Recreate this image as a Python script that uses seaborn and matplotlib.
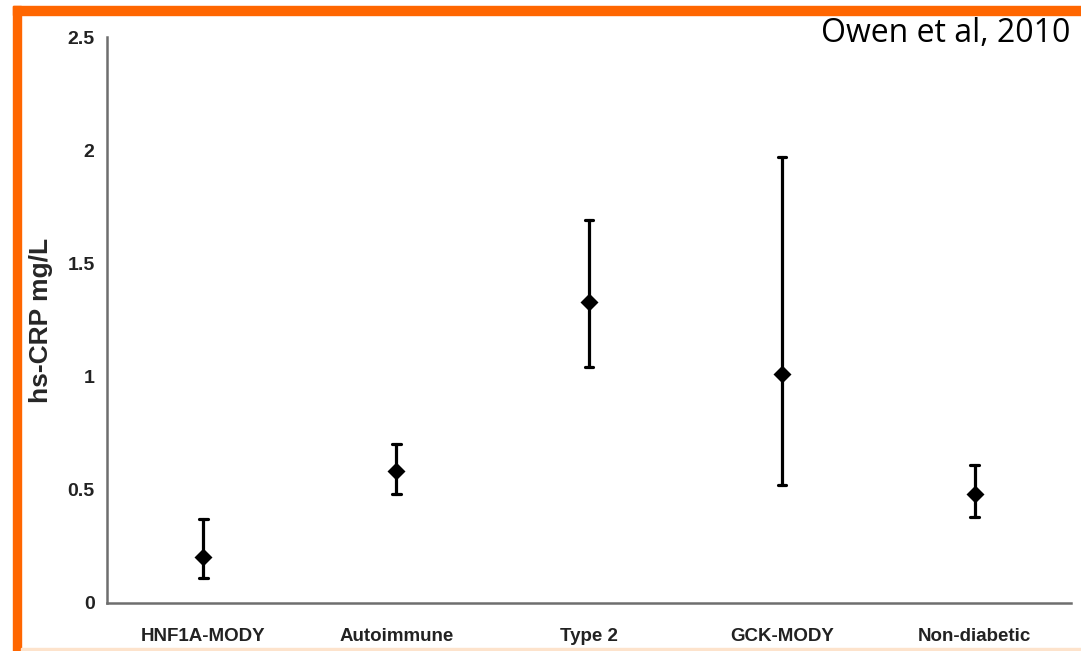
import numpy as np
import pandas as pd
import matplotlib
matplotlib.use("Agg")
import matplotlib.pyplot as plt
from matplotlib.patches import Rectangle
import seaborn as sns

# hs-CRP by diabetes subtype: mean with lower / upper interval bounds (mg/L)
groups = ["HNF1A-MODY", "Autoimmune", "Type 2", "GCK-MODY", "Non-diabetic"]
means = [0.20, 0.58, 1.33, 1.01, 0.48]
lower = [0.11, 0.48, 1.04, 0.52, 0.38]
upper = [0.37, 0.70, 1.69, 1.97, 0.61]
y_ticks = [0, 0.5, 1, 1.5, 2, 2.5]
y_tick_labels = ["0", "0.5", "1", "1.5", "2", "2.5"]

# long table: each group holds its lower bound, mean and upper bound;
# the median gives the point and min/max give the interval
rows = []
for g, lo, m, hi in zip(groups, lower, means, upper):
    for v in (lo, m, hi):
        rows.append({"group": g, "value": v})
df = pd.DataFrame(rows)

sns.set_style("white")
plt.rcParams["font.family"] = ["Liberation Sans", "DejaVu Sans"]

fig = plt.figure(figsize=(10.81, 6.51), dpi=100)
ax = fig.add_axes([0.099, 0.0743, 0.8918, 0.8684])

sns.pointplot(
    data=df, x="group", y="value", order=groups,
    estimator="median", errorbar=lambda v: (v.min(), v.max()),
    color="black", marker="D", linestyle="none", markersize=7.5,
    capsize=0.045, err_kws={"linewidth": 2.3}, ax=ax,
)

ax.set_xlim(-0.5, 4.5)
ax.set_ylim(0, 2.5)
ax.set_yticks(y_ticks)
ax.set_yticklabels(y_tick_labels, fontsize=14, fontweight="bold", color="#222222")
ax.set_xticks(range(len(groups)))
ax.set_xticklabels(groups, fontsize=13.5, fontweight="bold", color="#222222")
ax.set_xticks(np.arange(-0.5, len(groups), 1.0), minor=True)
ax.tick_params(axis="x", which="major", length=0, pad=18)
ax.tick_params(axis="x", which="minor", length=4, width=1, color="#999999", direction="out")
ax.tick_params(axis="y", length=4, width=1, color="#999999", direction="out", pad=5)
ax.set_xlabel("")
ax.set_ylabel("hs-CRP mg/L", fontsize=19, fontweight="bold", labelpad=10)

for side in ("top", "right"):
    ax.spines[side].set_visible(False)
for side in ("left", "bottom"):
    ax.spines[side].set_color("#6e6e6e")
    ax.spines[side].set_linewidth(1.8)

# slide frame: orange rule along the top and left edges, faint edge at the bottom
orange = "#FF6600"
fig.patches.append(Rectangle((13 / 1081, 1 - 15 / 651), 1 - 13 / 1081, 9 / 651,
                             transform=fig.transFigure, color=orange, zorder=5))
fig.patches.append(Rectangle((13 / 1081, 0), 8 / 1081, 1 - 6 / 651,
                             transform=fig.transFigure, color=orange, zorder=5))
fig.patches.append(Rectangle((21 / 1081, 0), 1 - 21 / 1081, 3 / 651,
                             transform=fig.transFigure, color="#FDE3CC", zorder=5))

fig.text(1070 / 1081, 1 - 42 / 651, "Owen et al, 2010", ha="right", va="baseline",
         fontsize=23, family=["Open Sans", "DejaVu Sans"], color="black")

fig.savefig("out.png", dpi=100)
